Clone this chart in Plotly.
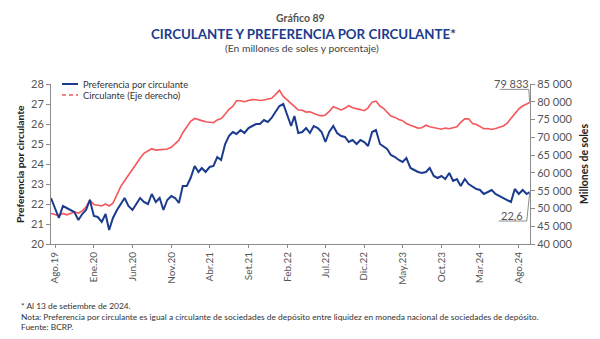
import plotly.graph_objects as go

# ---------------- data ----------------
# semi-monthly observations (16 Jul 2019 ... 1 Sep 2024, then 13 Sep 2024)
pref_2019 = [22.3, 21.8, 21.3, 21.9, 21.8, 21.7, 21.6, 21.2, 21.5, 21.7, 22.2]
pref_2020 = [21.4, 21.35, 21.1, 21.5, 20.7, 21.3, 21.7, 22.0, 22.3, 21.9, 21.7, 22.0,
             22.3, 22.1, 22.0, 22.5, 22.1, 22.3, 21.7, 22.2, 22.4, 22.3, 22.05, 22.9]
pref_2021 = [22.9, 23.3, 23.9, 23.6, 23.8, 23.6, 23.85, 23.9, 24.35, 24.2, 25.0, 25.4,
             25.6, 25.5, 25.7, 25.55, 25.8, 25.9, 26.0, 26.0, 26.2, 26.1, 26.3, 26.6]
pref_2022 = [26.9, 27.0, 26.4, 25.9, 26.4, 25.55, 25.6, 25.8, 25.55, 25.9, 25.8, 25.6,
             25.1, 25.6, 25.9, 25.55, 25.4, 25.35, 25.1, 25.2, 25.0, 25.2, 25.1, 24.9]
pref_2023 = [25.6, 25.7, 25.0, 24.85, 24.75, 24.45, 24.35, 24.2, 24.1, 24.3, 23.8, 23.7,
             23.6, 23.55, 23.6, 23.8, 23.4, 23.3, 23.4, 23.25, 23.55, 23.15, 23.25, 22.9]
pref_2024 = [23.25, 23.0, 22.85, 22.75, 22.7, 22.5, 22.6, 22.7, 22.5, 22.4, 22.3, 22.2,
             22.1, 22.75, 22.5, 22.7, 22.5, 22.6]

circ_2019 = [48600, 48300, 48000, 48600, 48200, 48600, 49000, 48700, 49300, 50400, 52400]
circ_2020 = [51100, 50900, 50700, 51250, 50700, 51500, 53900, 56200, 57800, 59400, 60900, 62600,
             64100, 65500, 66200, 66800, 66400, 66450, 66600, 66700, 67200, 68200, 69200, 71300]
circ_2021 = [72900, 74500, 75300, 74900, 74700, 74400, 74300, 74100, 74900, 75300, 76500, 77900,
             78700, 80300, 80300, 80000, 80350, 80600, 80550, 80350, 80500, 80650, 81000, 82000]
circ_2022 = [83200, 81500, 80500, 79500, 78600, 77700, 77600, 77100, 77200, 76700, 76300, 76050,
             76300, 77300, 78600, 78200, 77700, 78200, 78900, 78300, 78100, 77800, 77500, 78300]
circ_2023 = [79900, 80200, 78800, 78100, 77100, 76000, 75600, 75000, 74700, 73900, 73400, 72900,
             72600, 72700, 73400, 73000, 72700, 72400, 72300, 72600, 72400, 72700, 73000, 74200]
circ_2024 = [75200, 75200, 73900, 73600, 73100, 72400, 72500, 72200, 72500, 72900, 73200, 74000,
             75400, 76800, 78000, 78800, 79300, 79833]

tick_dates = ["2019-08-01", "2020-01-01", "2020-06-01", "2020-11-01", "2021-04-01",
              "2021-09-01", "2022-02-01", "2022-07-01", "2022-12-01", "2023-05-01",
              "2023-10-01", "2024-03-01", "2024-08-01"]
tick_labels = ["Ago.19", "Ene.20", "Jun.20", "Nov.20", "Abr.21", "Set.21", "Feb.22",
               "Jul.22", "Dic.22", "May.23", "Oct.23", "Mar.24", "Ago.24"]

pref = pref_2019 + pref_2020 + pref_2021 + pref_2022 + pref_2023 + pref_2024
circ = circ_2019 + circ_2020 + circ_2021 + circ_2022 + circ_2023 + circ_2024

dates = ["2019-07-16"]
y, m = 2019, 8
while (y, m) <= (2024, 9):
    dates.append(f"{y}-{m:02d}-01")
    if (y, m) != (2024, 9):
        dates.append(f"{y}-{m:02d}-16")
    m += 1
    if m > 12:
        m, y = 1, y + 1
dates.append("2024-09-13")

BLUE = "#1b3c8e"
RED = "#f4585b"
GRAY = "#555555"
AXC = "#8c8c8c"
FONT = "Lato"

fig = go.Figure()
fig.add_trace(go.Scatter(x=dates, y=circ, mode="lines", yaxis="y",
                         line=dict(color=RED, width=1.6), showlegend=False))
fig.add_trace(go.Scatter(x=dates, y=pref, mode="lines", yaxis="y2",
                         line=dict(color=BLUE, width=2), showlegend=False))

fig.update_layout(
    width=600, height=339,
    margin=dict(l=51, r=70, t=84, b=95),
    paper_bgcolor="white", plot_bgcolor="white",
    separators=", ",
    font=dict(family=FONT, color=GRAY, size=11),
    showlegend=False,
    xaxis=dict(type="date", range=["2019-07-16", "2024-09-14"],
               tickvals=tick_dates, ticktext=tick_labels, tickangle=-90,
               ticks="outside", ticklen=3, tickcolor=AXC,
               showline=True, linecolor=AXC, linewidth=1, showgrid=False,
               zeroline=False, tickfont=dict(size=10, color=GRAY)),
    yaxis=dict(side="right", range=[40000, 85000], dtick=5000, tickformat=",d",
               ticks="outside", ticklen=4, tickcolor=AXC,
               showline=True, linecolor=AXC, showgrid=False, zeroline=False,
               tickfont=dict(size=11, color=GRAY)),
    yaxis2=dict(side="left", overlaying="y", range=[20, 28], dtick=1,
                ticks="outside", ticklen=4, tickcolor=AXC,
                showline=True, linecolor=AXC, showgrid=False, zeroline=False,
                tickfont=dict(size=11, color=GRAY)),
)

def px(xp):
    return (xp - 51) / 479

def py(yp):
    return (244 - yp) / 160

ann = []
ann.append(dict(text="<b>Gráfico 89</b>", x=px(300), y=py(18), font=dict(size=10.5, color="#555555")))
ann.append(dict(text="<b>CIRCULANTE Y PREFERENCIA POR CIRCULANTE*</b>", x=px(303), y=py(34),
                font=dict(size=13.3, color=BLUE)))
ann.append(dict(text="(En millones de soles y porcentaje)", x=px(302), y=py(48.5),
                font=dict(size=10.3, color="#444444")))
ann.append(dict(text="<b>Preferencia por circulante</b>", x=px(20), y=0.5, textangle=-90,
                font=dict(size=10.3, color="#222222")))
ann.append(dict(text="<b>Millones de soles</b>", x=px(584), y=0.5, textangle=-90,
                font=dict(size=10.5, color="#222222")))
ann.append(dict(text="Preferencia por circulante", x=px(81), y=py(84), xanchor="left",
                font=dict(size=9.4, color="#333333")))
ann.append(dict(text="Circulante (Eje derecho)", x=px(81), y=py(95), xanchor="left",
                font=dict(size=9.4, color="#333333")))
notes = ["* Al 13 de setiembre de 2024.",
         "Nota: Preferencia por circulante es igual a circulante de sociedades de depósito entre liquidez en moneda nacional de sociedades de depósito.",
         "Fuente: BCRP."]
for i, t in enumerate(notes):
    ann.append(dict(text=t, x=px(19), y=py(306 + 10.5 * i), xanchor="left",
                    font=dict(size=8.4, color="#333333")))
for a in ann:
    a.setdefault("xanchor", "center")
    a.update(xref="paper", yref="paper", yanchor="middle", showarrow=False)
    fig.add_annotation(**a)

# value labels with elbow leader lines, anchored on last data points
fig.add_annotation(x=dates[-1], y=circ[-1], xref="x", yref="y", text=f"{circ[-1]:,}".replace(",", " "),
                   showarrow=False, xshift=-18, yshift=19, font=dict(size=11, color=GRAY))
fig.add_annotation(x=dates[-1], y=pref[-1], xref="x", yref="y2", text=f"{pref[-1]:.1f}".replace(".", ","),
                   showarrow=False, xshift=-18, yshift=-23, font=dict(size=11, color=GRAY))
fig.add_shape(type="path", xref="x", yref="y", xsizemode="pixel", ysizemode="pixel",
              xanchor=dates[-1], yanchor=circ[-1], path="M 0 0 L -1 13 L -30 13",
              line=dict(color=AXC, width=1))
fig.add_shape(type="path", xref="x", yref="y2", xsizemode="pixel", ysizemode="pixel",
              xanchor=dates[-1], yanchor=pref[-1], path="M 0 0 L -3 -29 L -31 -29",
              line=dict(color=AXC, width=1))

# manual legend symbols
fig.add_shape(type="line", xref="paper", yref="paper", x0=px(62), x1=px(78), y0=py(84), y1=py(84),
              line=dict(color=BLUE, width=2))
fig.add_shape(type="line", xref="paper", yref="paper", x0=px(62), x1=px(78), y0=py(95), y1=py(95),
              line=dict(color=RED, width=1.6, dash="4px,3px"))

fig.write_html("out.html")
